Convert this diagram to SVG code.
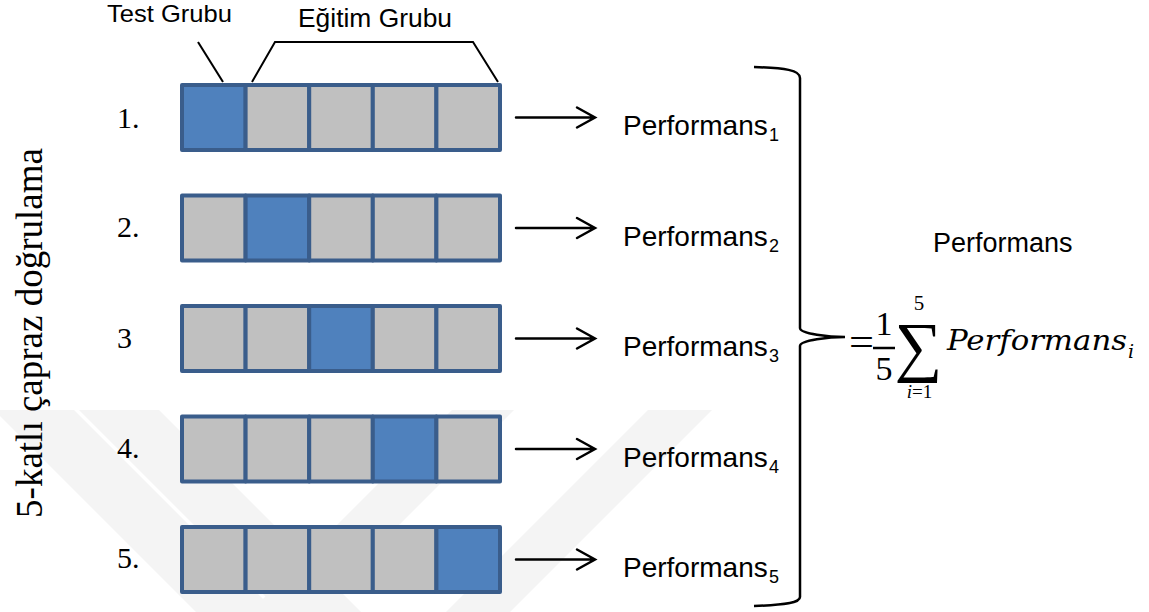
<svg xmlns="http://www.w3.org/2000/svg" width="1149" height="612" viewBox="0 0 1149 612">
<style>
.bg{fill:#ffffff}
.wm{fill:#f4f4f4}
.cell{stroke:#3A5D8B;stroke-width:4;stroke-linejoin:round}
.g{fill:#C0C0C0}
.b{fill:#4F81BD}
.num{font-family:"Liberation Serif",serif;font-size:30px;fill:#000}
.lab{font-family:"Liberation Sans",Arial,sans-serif;fill:#000}
.perf{font-size:28px}
.sub{font-size:18px}
.ln{stroke:#000;stroke-width:2;fill:none}
.arr{stroke:#000;stroke-width:2.5;fill:none;stroke-linecap:round;stroke-linejoin:miter}
.math{font-family:"Liberation Serif","DejaVu Serif",serif;fill:#000}
.mi{font-family:"DejaVu Serif",serif;font-style:italic;fill:#000}
</style>
<rect class="bg" x="0" y="0" width="1149" height="612"/>
<g id="watermark">
<polygon class="wm" points="-6,410 74,410 276,612 196,612"/>
<polygon class="wm" points="79,410 159,410 361,612 281,612"/>
<polygon class="wm" points="250,612 312,612 514,410 452,410"/>
<polygon class="wm" points="446,612 510,612 712,410 648,410"/>
</g>
<text id="title" class="num" style="font-size:37px" transform="translate(42,333) rotate(-90)" text-anchor="middle">5-katlı çapraz doğrulama</text>
<g id="labels-top">
<text class="lab" x="107" y="22" font-size="24" textLength="125" lengthAdjust="spacingAndGlyphs">Test Grubu</text>
<text class="lab" x="298" y="27" font-size="25" textLength="154" lengthAdjust="spacingAndGlyphs">Eğitim Grubu</text>
</g>
<g id="row1">
<text class="num" x="117" y="128">1.</text>
<rect class="cell b" x="182" y="85" width="63.6" height="65"/>
<rect class="cell g" x="245.6" y="85" width="63.6" height="65"/>
<rect class="cell g" x="309.2" y="85" width="63.6" height="65"/>
<rect class="cell g" x="372.8" y="85" width="63.6" height="65"/>
<rect class="cell g" x="436.4" y="85" width="63.6" height="65"/>
<text class="lab perf" x="623" y="135">Performans</text><text class="lab sub" x="769" y="141">1</text>
</g>
<g id="row2">
<text class="num" x="117" y="237">2.</text>
<rect class="cell g" x="182" y="195.5" width="63.6" height="65"/>
<rect class="cell b" x="245.6" y="195.5" width="63.6" height="65"/>
<rect class="cell g" x="309.2" y="195.5" width="63.6" height="65"/>
<rect class="cell g" x="372.8" y="195.5" width="63.6" height="65"/>
<rect class="cell g" x="436.4" y="195.5" width="63.6" height="65"/>
<text class="lab perf" x="623" y="245.5">Performans</text><text class="lab sub" x="769" y="251.5">2</text>
</g>
<g id="row3">
<text class="num" x="117" y="348">3</text>
<rect class="cell g" x="182" y="306" width="63.6" height="65"/>
<rect class="cell g" x="245.6" y="306" width="63.6" height="65"/>
<rect class="cell b" x="309.2" y="306" width="63.6" height="65"/>
<rect class="cell g" x="372.8" y="306" width="63.6" height="65"/>
<rect class="cell g" x="436.4" y="306" width="63.6" height="65"/>
<text class="lab perf" x="623" y="356">Performans</text><text class="lab sub" x="769" y="362">3</text>
</g>
<g id="row4">
<text class="num" x="117" y="458">4.</text>
<rect class="cell g" x="182" y="416.5" width="63.6" height="65"/>
<rect class="cell g" x="245.6" y="416.5" width="63.6" height="65"/>
<rect class="cell g" x="309.2" y="416.5" width="63.6" height="65"/>
<rect class="cell b" x="372.8" y="416.5" width="63.6" height="65"/>
<rect class="cell g" x="436.4" y="416.5" width="63.6" height="65"/>
<text class="lab perf" x="623" y="466.5">Performans</text><text class="lab sub" x="769" y="472.5">4</text>
</g>
<g id="row5">
<text class="num" x="117" y="568">5.</text>
<rect class="cell g" x="182" y="527" width="63.6" height="65"/>
<rect class="cell g" x="245.6" y="527" width="63.6" height="65"/>
<rect class="cell g" x="309.2" y="527" width="63.6" height="65"/>
<rect class="cell g" x="372.8" y="527" width="63.6" height="65"/>
<rect class="cell b" x="436.4" y="527" width="63.6" height="65"/>
<text class="lab perf" x="623" y="577">Performans</text><text class="lab sub" x="769" y="583">5</text>
</g>
<g id="connectors">
<line class="ln" x1="198" y1="42" x2="223" y2="82"/>
<polyline class="ln" points="252,82 275,42 473,42 498,82"/>
<g id="arrows">
<path class="arr" d="M516,117.5 H594 M577,107.5 L595,117.5 L577,127.5"/>
<path class="arr" d="M516,228 H594 M577,218 L595,228 L577,238"/>
<path class="arr" d="M516,338.5 H594 M577,328.5 L595,338.5 L577,348.5"/>
<path class="arr" d="M516,449 H594 M577,439 L595,449 L577,459"/>
<path class="arr" d="M516,559.5 H594 M577,549.5 L595,559.5 L577,569.5"/>
</g>
<path id="brace" class="ln" style="stroke-width:2.5" d="M754,67 C785,68 800,70 800,78 L800,328 C800,334 830,337 845,337 C830,337 800,340 800,346 L800,597 C800,603 785,605 754,606"/>
</g>
<g id="result">
<text class="lab" x="933" y="252" font-size="27">Performans</text>
<text class="math" x="849" y="356" font-size="40" textLength="25" lengthAdjust="spacingAndGlyphs">=</text>
<text class="math" x="884" y="335" font-size="34" text-anchor="middle">1</text>
<line x1="873" y1="348" x2="895" y2="348" stroke="#000" stroke-width="2.5"/>
<text class="math" x="884" y="380" font-size="34" text-anchor="middle">5</text>
<text class="math" x="919" y="310" font-size="21" text-anchor="middle">5</text>
<text class="math" x="918.5" y="369" font-size="67" text-anchor="middle">∑</text>
<text class="math" x="919.5" y="398" font-size="19" text-anchor="middle"><tspan font-style="italic">i</tspan>=1</text>
<text class="mi" x="947" y="350" font-size="27" textLength="180" lengthAdjust="spacingAndGlyphs">Performans</text>
<text class="mi" x="1128" y="358" font-size="19">i</text>
</g>
</svg>
